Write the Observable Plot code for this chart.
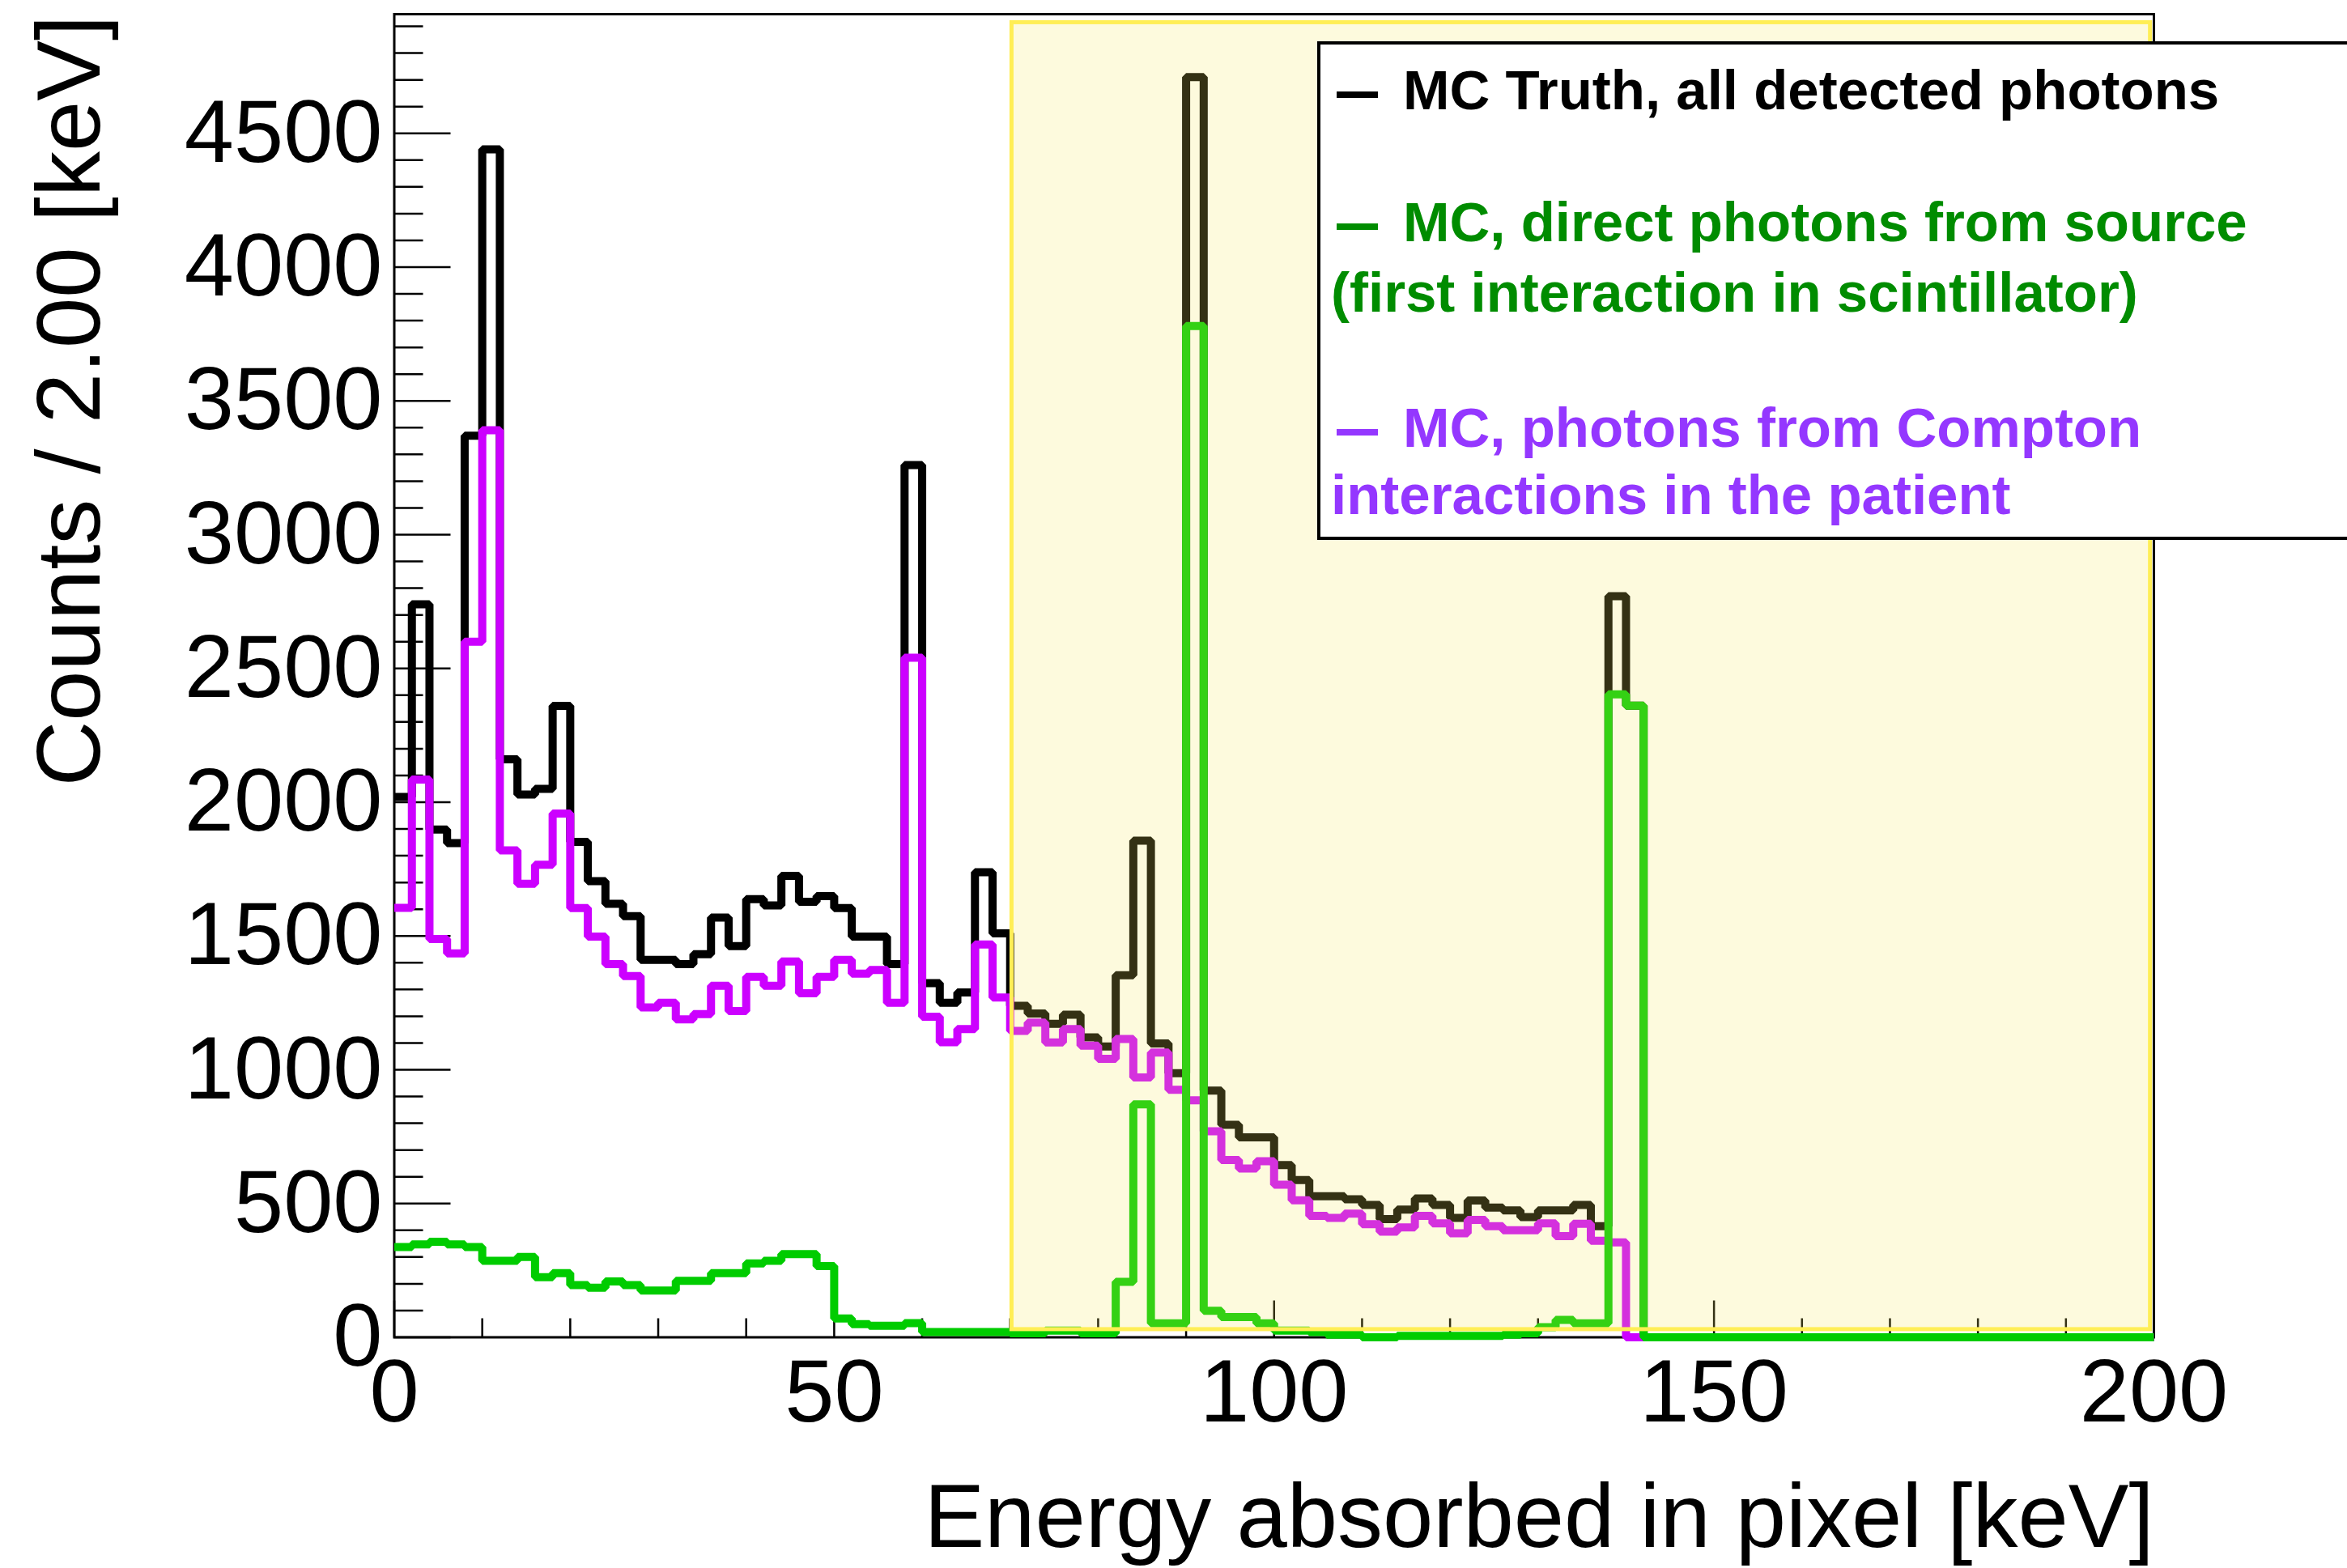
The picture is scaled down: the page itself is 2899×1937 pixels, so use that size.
<!DOCTYPE html>
<html>
<head>
<meta charset="utf-8">
<script src="https://cdn.jsdelivr.net/npm/d3@7"></script>
<script src="https://cdn.jsdelivr.net/npm/@observablehq/plot@0.6"></script>
<style>
  html, body { margin: 0; padding: 0; background: #fff; overflow: hidden; }
  #chart { position: absolute; left: 0; top: 0; }
  #legend { position: absolute; left: 0; top: 0; pointer-events: none; }
</style>
</head>
<body>
<div id="chart"></div>
<svg id="legend" width="2899" height="700"></svg>
<script>
// Energy spectrum, 2 keV bins from 0 to 200 keV
const binWidth = 2;

// MC Truth, all detected photons
const truthAll = [
  2020, 2740, 1898, 1847, 3370, 4440, 2160, 2029, 2050, 2360,
  1852, 1705, 1620, 1574, 1411, 1411, 1395, 1432, 1569, 1462,
  1638, 1614, 1725, 1628, 1649, 1604, 1498, 1498, 1395, 3260,
  1324, 1250, 1289, 1738, 1510, 1239, 1210, 1172, 1206, 1121,
  1087, 1353, 1856, 1098, 987, 4710, 922, 794, 747, 747,
  644, 588, 527, 527, 516, 495, 442, 477, 519, 495,
  446, 511, 485, 474, 449, 474, 474, 495, 415, 2770,
  2361, 0, 0, 0, 0, 0, 0, 0, 0, 0,
  0, 0, 0, 0, 0, 0, 0, 0, 0, 0,
  0, 0, 0, 0, 0, 0, 0, 0, 0, 0
];

// MC, photons from Compton interactions in the patient
const comptonPatient = [
  1605, 2085, 1489, 1435, 2600, 3390, 1820, 1695, 1766, 1958,
  1604, 1498, 1395, 1350, 1233, 1250, 1188, 1208, 1314, 1219,
  1347, 1314, 1405, 1286, 1347, 1411, 1359, 1373, 1250, 2540,
  1198, 1103, 1152, 1468, 1270, 1145, 1176, 1102, 1152, 1090,
  1041, 1115, 971, 1064, 925, 886, 770, 663, 631, 658,
  570, 512, 454, 446, 462, 423, 395, 411, 454, 426,
  389, 439, 415, 400, 400, 426, 378, 424, 361, 355,
  0, 0, 0, 0, 0, 0, 0, 0, 0, 0,
  0, 0, 0, 0, 0, 0, 0, 0, 0, 0,
  0, 0, 0, 0, 0, 0, 0, 0, 0, 0
];

// MC, direct photons from source (first interaction in scintillator)
const directSource = [
  337, 347, 357, 347, 337, 286, 286, 300, 225, 240,
  195, 185, 209, 195, 175, 175, 211, 211, 240, 240,
  276, 286, 311, 311, 266, 70, 49, 43, 43, 53,
  20, 20, 20, 20, 20, 15, 15, 25, 25, 15,
  15, 207, 871, 52, 52, 3780, 99, 76, 76, 52,
  25, 25, 20, 10, 10, 0, 0, 5, 5, 5,
  5, 5, 5, 10, 15, 38, 65, 52, 52, 2403,
  2361, 0, 0, 0, 0, 0, 0, 0, 0, 0,
  0, 0, 0, 0, 0, 0, 0, 0, 0, 0,
  0, 0, 0, 0, 0, 0, 0, 0, 0, 0
];

// Highlighted energy window (keV) and its vertical extent (counts)
const windowKeV = [70.2, 199.6];
const windowCounts = [29, 4914];

// Axis ticks
const xMajorTicks = [0, 50, 100, 150, 200];
const yMajorTicks = [0, 500, 1000, 1500, 2000, 2500, 3000, 3500, 4000, 4500];
const xMinorTicks = d3.range(10, 200, 10).filter(d => d % 50 !== 0);
const yMinorTicks = d3.range(100, 5000, 100).filter(d => d % 500 !== 0);

const xTitle = "Energy absorbed in pixel [keV]";
const yTitle = "Counts / 2.00 [keV]";

// Legend entries
const legendEntries = [
  {lines: ["MC Truth, all detected photons"], color: "#000000"},
  {lines: ["MC, direct photons from source", "(first interaction in scintillator)"], color: "#008c00"},
  {lines: ["MC, photons from Compton", "interactions in the patient"], color: "#9437ff"}
];

// Histogram outline: one point per bin edge, drawn as a step
function outline(counts) {
  const pts = counts.map((v, i) => ({e: i * binWidth, v}));
  pts.push({e: counts.length * binWidth, v: counts[counts.length - 1]});
  return pts;
}

const W = 2899, H = 1937;
const mL = 486.5, mR = 239, mT = 17, mB = 285.5;
const frameW = W - mL - mR, frameH = H - mT - mB;
const yMax = 1.05 * d3.max(truthAll);
const font = "'Liberation Sans', Arial, Helvetica, sans-serif";

const histStyle = {x: "e", y: "v", curve: "step-after", strokeWidth: 10, strokeLinejoin: "miter", strokeLinecap: "butt"};

const chart = Plot.plot({
  width: W,
  height: H,
  marginLeft: mL,
  marginRight: mR,
  marginTop: mT,
  marginBottom: mB,
  style: {fontFamily: font, background: "white", color: "black"},
  x: {domain: [0, 200], axis: null},
  y: {domain: [0, yMax], axis: null},
  marks: [
    // inward ticks
    Plot.tickY(yMinorTicks, {y: d => d, stroke: "black", strokeWidth: 2.5, insetRight: frameW - 36}),
    Plot.tickY(yMajorTicks, {y: d => d, stroke: "black", strokeWidth: 2.5, insetRight: frameW - 70}),
    Plot.tickX(xMinorTicks, {x: d => d, stroke: "black", strokeWidth: 2.5, insetTop: frameH - 23}),
    Plot.tickX(xMajorTicks, {x: d => d, stroke: "black", strokeWidth: 2.5, insetTop: frameH - 45}),
    Plot.frame({stroke: "black", strokeWidth: 3}),
    // histograms
    Plot.line(outline(truthAll), {...histStyle, stroke: "#000000"}),
    Plot.line(outline(comptonPatient), {...histStyle, stroke: "#cc00ff"}),
    Plot.line(outline(directSource), {...histStyle, stroke: "#00cc00"}),
    // energy window overlay
    Plot.rect([0], {
      x1: () => windowKeV[0], x2: () => windowKeV[1],
      y1: () => windowCounts[0], y2: () => windowCounts[1],
      fill: "#f5e760", fillOpacity: 0.21, stroke: "#ffee55", strokeWidth: 5
    }),
    // tick labels
    Plot.text(yMajorTicks, {y: d => d, text: d => String(d), frameAnchor: "left", textAnchor: "end", dx: -14.5, fontSize: 110, fill: "black"}),
    Plot.text(xMajorTicks, {x: d => d, text: d => String(d), frameAnchor: "bottom", lineAnchor: "top", dy: 26, fontSize: 110, fill: "black"}),
    // axis titles
    Plot.text([xTitle], {text: d => d, frameAnchor: "bottom-right", textAnchor: "end", lineAnchor: "bottom", dy: 258.5, fontSize: 112, fill: "black"}),
    Plot.text([yTitle], {text: d => d, frameAnchor: "top-left", rotate: -90, textAnchor: "end", lineAnchor: "bottom", dx: -364.5, dy: 1.5, fontSize: 112, fill: "black"})
  ]
});
document.getElementById("chart").appendChild(chart);

// Legend box
const lg = d3.select("#legend");
lg.append("rect")
  .attr("x", 1629).attr("y", 53).attr("width", 1400).attr("height", 612)
  .attr("fill", "white").attr("stroke", "black").attr("stroke-width", 4);

const entryBaselines = [[135], [298, 385], [552, 635]];
legendEntries.forEach((entry, k) => {
  const b = entryBaselines[k];
  lg.append("line")
    .attr("x1", 1651).attr("x2", 1702)
    .attr("y1", b[0] - 18).attr("y2", b[0] - 18)
    .attr("stroke", entry.color).attr("stroke-width", 8);
  entry.lines.forEach((t, j) => {
    lg.append("text")
      .attr("x", j === 0 ? 1733 : 1644)
      .attr("y", b[j])
      .attr("fill", entry.color)
      .attr("font-family", font)
      .attr("font-weight", "bold")
      .attr("font-size", 69)
      .text(t);
  });
});
</script>
</body>
</html>
